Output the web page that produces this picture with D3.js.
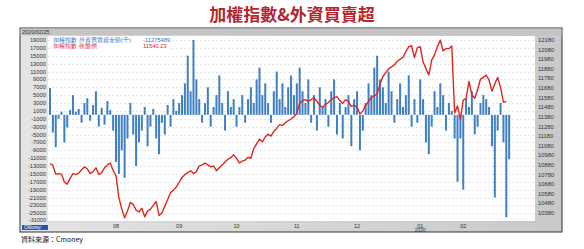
<!DOCTYPE html>
<html>
<head>
<meta charset="utf-8">
<script src="https://cdn.jsdelivr.net/npm/d3@7"></script>
<style>
  body { margin: 0; background: #fff; }
  svg { display: block; font-family: "Liberation Sans", "DejaVu Sans", sans-serif; }
</style>
</head>
<body>
<svg id="chart" width="584" height="249"></svg>
<script>
// month tick labels and the trading-day index where each month starts
const monthLabels = ["08", "09", "10", "11", "12", "01", "02"];
const monthStart = [23, 45, 65, 86, 107, 129, 144];

const leftTicks = [19000, 17000, 15000, 13000, 11000, 9000, 7000, 5000, 3000, 1000,
  -1000, -3000, -5000, -7000, -9000, -11000, -13000, -15000, -17000, -19000, -21000, -23000, -25000];
const rightTicks = [12180, 12080, 11980, 11880, 11780, 11680, 11580, 11480, 11380, 11280,
  11180, 11080, 10980, 10880, 10780, 10680, 10580, 10480, 10380];

// TAIEX close, 2019/07/01 - 2020/02/25 (161 trading days)
const closes = [
  10895, 10875, 10785, 10790, 10785, 10700, 10680, 10740, 10790, 10780, 10795, 10830, 10860,
  10840, 10790, 10810, 10850, 10780, 10800, 10850, 10880, 10900, 10823,
  10770, 10540, 10423, 10330, 10400, 10490, 10470, 10410, 10390, 10430, 10340, 10400,
  10420, 10460, 10500, 10355, 10380, 10450, 10520, 10590, 10618,
  10650, 10700, 10750, 10780, 10800, 10820, 10790, 10810, 10870, 10880, 10900, 10880, 10860,
  10870, 10820, 10850, 10880, 10910, 10940, 10956,
  10985, 10950, 10900, 10920, 10930, 10960, 10950, 11050, 11100, 11150, 11120, 11170, 11200,
  11180, 11230, 11260, 11300, 11290, 11320, 11340, 11358,
  11380, 11420, 11520, 11550, 11560, 11540, 11560, 11580, 11540, 11500, 11480, 11510, 11530,
  11560, 11580, 11590, 11550, 11520, 11560, 11540, 11489,
  11500, 11480, 11410, 11440, 11500, 11540, 11580, 11600, 11620, 11720, 11800, 11840, 11880,
  11900, 11920, 11960, 11980, 12000, 12060, 12110, 12120, 11997,
  12100, 12110, 11953, 11880, 11817, 11970, 12025, 12113, 12179, 12066, 12091, 12090, 12118,
  11421, 11495,
  11354, 11555, 11573, 11749, 11612, 11574, 11664, 11774, 11791, 11815, 11763, 11648, 11725,
  11791, 11686, 11534, 11540.23
];

// foreign investors net buy/sell (NT$ million)
const foreign = [
  6800, -4500, -8200, -1000, 800, -7000, -3200, 1200, 5000, 800, 1500, -2000, 3000, 4200,
  -1500, 2500, 6000, -3000, 1800, -2500, 3500, 1200, -4000,
  -12000, -15000, -9000, -16000, -6000, 3000, -5000, -13000, -7000, -4000, 2000, -8000,
  -3000, 1500, -6000, -10000, -2000, -5000, 2500, -3000, 4000, 1000,
  3000, 5000, 8000, 15000, 6000, 19000, 9000, 4000, -2000, 3000, 7000, -3000, 2000, 5000,
  10000, 3000, -4000, 6000, 2000, 4000,
  -3000, 2000, 5000, -2000, 4000, 7000, 3000, 9000, 12000, 5000, 8000, 3000, -2000, 6000,
  11000, 4000, 8000, 2000, 7000, 10000, 5000,
  8000, 12000, 6000, 3000, 9000, -2000, 5000, -4000, 7000, 2000, 4000, -3000, 6000, 9000,
  -5000, 3000, -6000, 2000, 5000, -8000, 4000,
  6000, -9000, -4000, 3000, 8000, 5000, 12000, 15000, 9000, 7000, 3000, 11000, 6000, -2000,
  4000, 8000, 2000, 5000, 10000, -3000, 4000, -2000,
  9000, 4000, -7000, -10000, -3000, 6000, 2000, 8000, 5000, -4000, 3000, 1000, -6000,
  -17000, -6000,
  -19000, 4000, 2000, 6000, -5000, -3000, 3000, 5000, 4000, 2000, -8000, -21000, -4000,
  3000, -7000, -26000, -11275
];

const svg = d3.select("#chart");

// frame
const defs = svg.append("defs");
const grad = defs.append("linearGradient").attr("id", "frameGrad")
  .attr("x1", 0).attr("x2", 1).attr("y1", 0).attr("y2", 0);
grad.append("stop").attr("offset", "0%").attr("stop-color", "#e4e4e4");
grad.append("stop").attr("offset", "100%").attr("stop-color", "#c9c9c9");

svg.append("rect")
  .attr("x", 20).attr("y", 28).attr("width", 542).attr("height", 204)
  .attr("fill", "url(#frameGrad)")
  .attr("stroke", "#333").attr("stroke-width", 1);
svg.append("rect")
  .attr("x", 20.5).attr("y", 28.5).attr("width", 541).attr("height", 7)
  .attr("fill", "#c4c4c4");

svg.append("text")
  .attr("x", 22).attr("y", 34)
  .attr("font-size", 5.5).attr("fill", "#333")
  .text("2020/02/25");

// plot area
const plot = { left: 48, right: 535, top: 36, bottom: 221 };
svg.append("rect")
  .attr("x", plot.left).attr("y", plot.top)
  .attr("width", plot.right - plot.left).attr("height", plot.bottom - plot.top)
  .attr("fill", "#fff");

const x = d3.scaleLinear().domain([0, 169]).range([50, 535]);
const yL = d3.scaleLinear().domain([-25000, 19000]).range([213.3, 40]);
const yR = d3.scaleLinear().domain([10380, 12180]).range([213, 40]);

// grid lines
svg.append("g")
  .selectAll("line")
  .data(leftTicks)
  .join("line")
  .attr("x1", plot.left).attr("x2", plot.right)
  .attr("y1", d => Math.round(yL(d)) + 0.5).attr("y2", d => Math.round(yL(d)) + 0.5)
  .attr("stroke", "#d4d4d4").attr("stroke-width", 0.6)
  .attr("stroke-dasharray", "2,2");

// left axis labels
svg.append("g")
  .selectAll("text")
  .data(leftTicks)
  .join("text")
  .attr("x", 46).attr("y", d => yL(d))
  .attr("dy", "0.35em")
  .attr("text-anchor", "end")
  .attr("font-size", 5.8).attr("fill", "#333")
  .text(d => d);
// minimum of the bar axis, printed at the bottom edge
svg.append("text")
  .attr("x", 46).attr("y", 219.6)
  .attr("dy", "0.35em")
  .attr("text-anchor", "end")
  .attr("font-size", 5.5).attr("fill", "#333")
  .text("-31000");

// right axis labels
svg.append("g")
  .selectAll("text")
  .data(rightTicks)
  .join("text")
  .attr("x", 538).attr("y", d => yR(d))
  .attr("dy", "0.35em")
  .attr("font-size", 5.8).attr("fill", "#333")
  .text(d => d);

// bars
svg.append("g")
  .selectAll("rect")
  .data(foreign)
  .join("rect")
  .attr("x", (d, i) => x(i) - 1)
  .attr("width", 2)
  .attr("y", d => d >= 0 ? yL(d) : yL(0))
  .attr("height", d => Math.abs(yL(d) - yL(0)))
  .attr("fill", "#3f7fc4");

// index line
const line = d3.line()
  .x((d, i) => x(i))
  .y(d => yR(d));
svg.append("path")
  .datum(closes)
  .attr("d", line)
  .attr("fill", "none")
  .attr("stroke", "#e2261c")
  .attr("stroke-width", 1.4)
  .attr("stroke-linejoin", "round");

// x axis ticks and labels
svg.append("g")
  .selectAll("line")
  .data(d3.range(0, 169))
  .join("line")
  .attr("x1", d => x(d)).attr("x2", d => x(d))
  .attr("y1", plot.bottom).attr("y2", plot.bottom + 1.5)
  .attr("stroke", "#bbb").attr("stroke-width", 0.5);

svg.append("g")
  .selectAll("text")
  .data(monthLabels)
  .join("text")
  .attr("x", (d, i) => x(monthStart[i]))
  .attr("y", 227.5)
  .attr("text-anchor", "middle")
  .attr("font-size", 5.5).attr("fill", "#333")
  .text(d => d);
svg.append("text")
  .attr("x", x(monthStart[5])).attr("y", 232)
  .attr("text-anchor", "middle")
  .attr("font-size", 5).attr("fill", "#333")
  .text("2020");

// legend
const legend = svg.append("g");
legend.append("rect")
  .attr("x", 50).attr("y", 37).attr("width", 122).attr("height", 14)
  .attr("fill", "#fff");
legend.append("text").attr("x", 53).attr("y", 42).attr("font-size", 5.8).attr("fill", "#3a6fc0")
  .text("加權指數");
legend.append("text").attr("x", 79).attr("y", 42).attr("font-size", 5.8).attr("fill", "#3a6fc0")
  .text("外資買賣超金額(千)");
legend.append("text").attr("x", 143).attr("y", 42).attr("font-size", 5.8).attr("fill", "#3a6fc0")
  .text("-11275489");
legend.append("text").attr("x", 53).attr("y", 48).attr("font-size", 5.8).attr("fill", "#e2261c")
  .text("加權指數");
legend.append("text").attr("x", 79).attr("y", 48).attr("font-size", 5.8).attr("fill", "#e2261c")
  .text("收盤價");
legend.append("text").attr("x", 143).attr("y", 48).attr("font-size", 5.8).attr("fill", "#e2261c")
  .text("11540.23");

// logo
svg.append("rect")
  .attr("x", 22).attr("y", 225).attr("width", 26).attr("height", 5)
  .attr("fill", "#2b55b5");
svg.append("text")
  .attr("x", 24).attr("y", 229.3)
  .attr("font-size", 4.5).attr("fill", "#fff")
  .text("CMoney");

// title and source
svg.append("text")
  .attr("x", 292).attr("y", 21)
  .attr("text-anchor", "middle")
  .attr("font-family", "'Noto Sans CJK TC', sans-serif")
  .attr("font-size", 17).attr("font-weight", "bold")
  .attr("fill", "#b5262b")
  .text("加權指數&外資買賣超");

svg.append("text")
  .attr("x", 21).attr("y", 242)
  .attr("font-family", "'Noto Sans CJK TC', sans-serif")
  .attr("font-size", 7).attr("fill", "#111")
  .text("資料來源：Cmoney");
</script>
</body>
</html>
